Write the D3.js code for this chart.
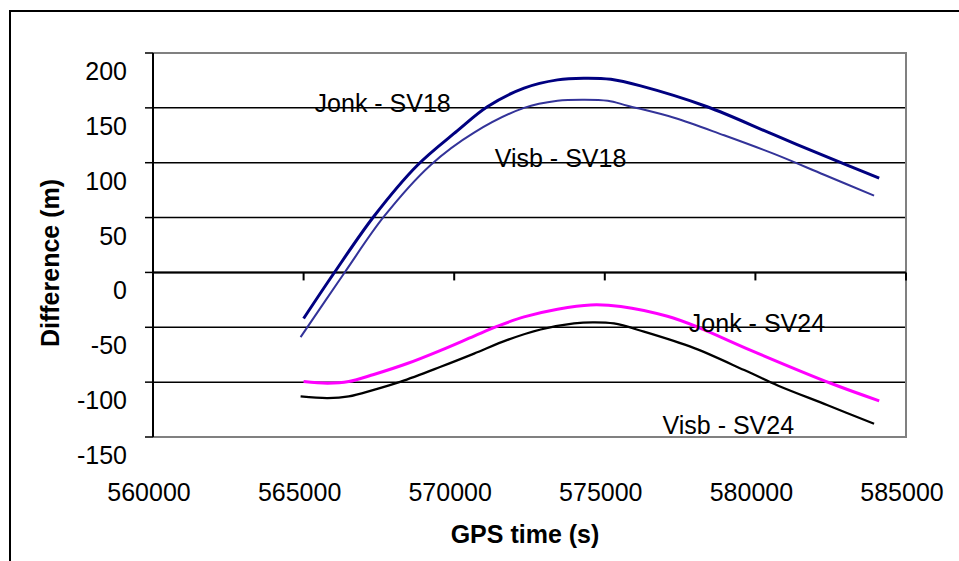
<!DOCTYPE html>
<html>
<head>
<meta charset="utf-8">
<script src="https://cdn.jsdelivr.net/npm/d3@7"></script>
<style>
    body { margin: 0; background: #fff; }
    text { font-family: "Liberation Sans", Arial, sans-serif; }
</style>
</head>
<body>
<div id="chart"></div>
<script>
// [GPS time (s), difference (m)]
const jonk_sv18 = [
    [565000, -42], [566000, -1], [567330, 51], [568770, 97.5], [570100, 129],
    [571100, 151], [572320, 168], [573430, 175.5], [574300, 177], [575200, 176],
    [576190, 170], [578400, 151], [580610, 125.5], [582840, 100], [584110, 86]
]
const visb_sv18 = [
    [564900, -59], [566340, -1], [567670, 51], [569220, 98], [570660, 127.5],
    [572320, 150], [573430, 156.5], [574300, 157.5], [575100, 156.5], [575750, 152],
    [577300, 141], [578960, 125], [580620, 108], [582280, 89], [583940, 70]
]
const jonk_sv24 = [
    [565000, -99.5], [565800, -101], [566500, -99.5], [567330, -93], [568440, -83],
    [569550, -71], [570660, -58], [571440, -49], [572320, -40.5], [573430, -33.5],
    [574530, -29.6], [575530, -31], [577080, -40], [578100, -50], [579850, -71],
    [582500, -101], [584110, -117]
]
const visb_sv24 = [
    [564900, -113], [565800, -114.5], [566500, -113], [567330, -107], [568230, -99.5],
    [569550, -86], [570660, -74], [571770, -61.5], [572870, -52], [573980, -46.5],
    [574600, -45.5], [575300, -46.5], [576300, -54], [577970, -69], [579630, -89],
    [580740, -103], [582400, -121], [583940, -138]
]

const x_ticks = [560000, 565000, 570000, 575000, 580000, 585000]
const y_ticks = [200, 150, 100, 50, 0, -50, -100, -150]

const series = [
    {name: "Jonk - SV18", values: jonk_sv18, color: "#000080", width: 3, label: [565365, 146.6]},
    {name: "Visb - SV18", values: visb_sv18, color: "#333399", width: 2, label: [571346, 96.4]},
    {name: "Visb - SV24", values: visb_sv24, color: "#000000", width: 2.2, label: [576917, -147]},
    {name: "Jonk - SV24", values: jonk_sv24, color: "#ff00ff", width: 3, label: [577791, -54]},
]

const width = 959
const height = 561

const x = d3.scaleLinear().domain([560000, 585000]).range([153, 906])
const y = d3.scaleLinear().domain([-150, 200]).range([437, 53])

const svg = d3.select("#chart").append("svg")
    .attr("width", width)
    .attr("height", height)

// outer chart frame runs off the right and bottom edges
svg.append("rect")
    .attr("x", 10).attr("y", 11)
    .attr("width", 1000).attr("height", 600)
    .attr("fill", "#fff")
    .attr("stroke", "#000")
    .attr("stroke-width", 2)

// gridlines
svg.append("g")
    .selectAll("line")
    .data(y_ticks.filter(d => d != 200 && d != -150))
    .join("line")
    .attr("x1", x.range()[0]).attr("x2", x.range()[1])
    .attr("y1", d => y(d)).attr("y2", d => y(d))
    .attr("stroke", "#000")
    .attr("stroke-width", 1.5)

// plot area border (grey top, right, bottom)
svg.append("path")
    .attr("d", `M${x.range()[0]},${y(200)}H${x.range()[1]}V${y(-150)}H${x.range()[0]}`)
    .attr("fill", "none")
    .attr("stroke", "#808080")
    .attr("stroke-width", 2)

// y axis with ticks to the left
const y_axis = svg.append("g")
y_axis.append("line")
    .attr("x1", x.range()[0]).attr("x2", x.range()[0])
    .attr("y1", y(200)).attr("y2", y(-150))
    .attr("stroke", "#000").attr("stroke-width", 2)
y_axis.selectAll(".tick")
    .data(y_ticks)
    .join("line")
    .attr("x1", x.range()[0] - 8).attr("x2", x.range()[0])
    .attr("y1", d => y(d)).attr("y2", d => y(d))
    .attr("stroke", "#000").attr("stroke-width", 1.5)
y_axis.selectAll("text")
    .data(y_ticks)
    .join("text")
    .attr("x", 127)
    .attr("y", d => y(d) + 27)
    .attr("text-anchor", "end")
    .attr("font-size", 25)
    .text(d => d)

// x axis crosses at 0
const x_axis = svg.append("g")
x_axis.append("line")
    .attr("x1", x.range()[0]).attr("x2", x.range()[1])
    .attr("y1", y(0)).attr("y2", y(0))
    .attr("stroke", "#000").attr("stroke-width", 2)
x_axis.selectAll(".tick")
    .data(x_ticks)
    .join("line")
    .attr("x1", d => x(d)).attr("x2", d => x(d))
    .attr("y1", y(0)).attr("y2", y(0) + 8)
    .attr("stroke", "#000").attr("stroke-width", 2)
x_axis.selectAll("text")
    .data(x_ticks)
    .join("text")
    .attr("x", d => x(d) - 4)
    .attr("y", 501)
    .attr("text-anchor", "middle")
    .attr("font-size", 25)
    .text(d => d)

const line = d3.line()
    .x(d => x(d[0]))
    .y(d => y(d[1]))
    .curve(d3.curveCatmullRom.alpha(0.5))

svg.append("g")
    .selectAll("path")
    .data(series)
    .join("path")
    .attr("d", d => line(d.values))
    .attr("fill", "none")
    .attr("stroke", d => d.color)
    .attr("stroke-width", d => d.width)

svg.append("g")
    .selectAll("text")
    .data(series)
    .join("text")
    .attr("x", d => x(d.label[0]))
    .attr("y", d => y(d.label[1]))
    .attr("font-size", 25)
    .text(d => d.name)

svg.append("text")
    .attr("x", 525)
    .attr("y", 543)
    .attr("text-anchor", "middle")
    .attr("font-size", 25)
    .attr("font-weight", "bold")
    .text("GPS time (s)")

svg.append("text")
    .attr("transform", "translate(59,263) rotate(-90)")
    .attr("text-anchor", "middle")
    .attr("font-size", 25)
    .attr("font-weight", "bold")
    .text("Difference (m)")
</script>
</body>
</html>
